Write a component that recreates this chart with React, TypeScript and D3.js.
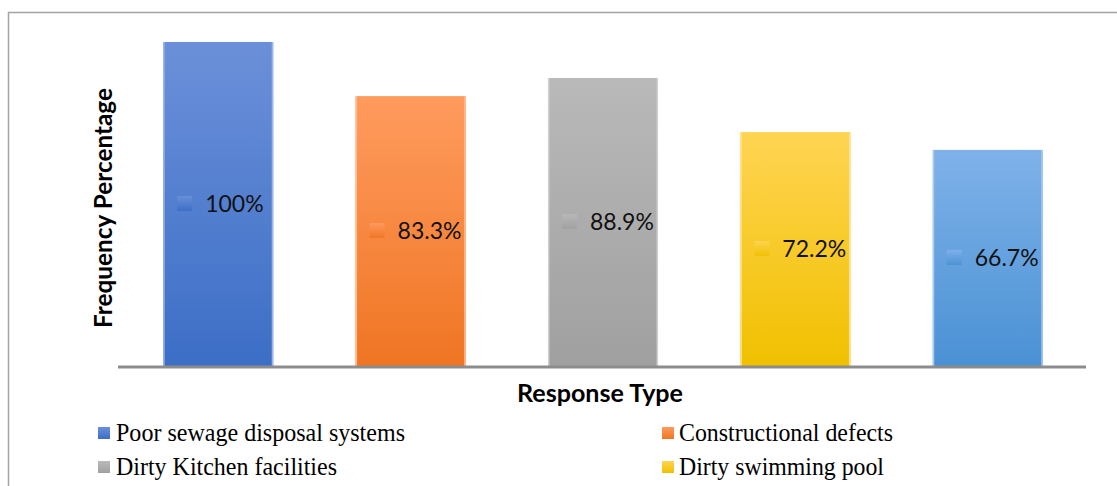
import React from "react";
import * as d3 from "d3";

const categories = [
  "Poor sewage disposal systems",
  "Constructional defects",
  "Dirty Kitchen facilities",
  "Dirty swimming pool",
  "Other",
];
const values = [100, 83.3, 88.9, 72.2, 66.7];
const valueLabels = ["100%", "83.3%", "88.9%", "72.2%", "66.7%"];
const topColors = ["#6b90d9", "#ff9b5e", "#b9b9b9", "#ffd452", "#7fb2e9"];
const bottomColors = ["#3c6ec6", "#ef7523", "#a0a0a0", "#f0c000", "#4a91d4"];
const edgeColors = ["#9fb6e6", "#ffb98c", "#cfcfcf", "#ffe089", "#a9cbf0"];
const legendItems = [0, 1, 2, 3];
const legendWidths = [289, 214, 221, 205];

const W = 1117;
const H = 486;

export default function App() {
  const x = d3
    .scaleBand<number>()
    .domain(d3.range(values.length))
    .range([122, 1084])
    .paddingInner(0.428)
    .paddingOuter(0.214);
  const y = d3.scaleLinear().domain([0, 100]).range([366, 42]);
  const bw = x.bandwidth();

  const legendPos = [
    { mx: 98, tx: 116, y: 441 },
    { mx: 662, tx: 679, y: 441 },
    { mx: 98, tx: 116, y: 475 },
    { mx: 662, tx: 679, y: 475 },
  ];

  return (
    <svg
      width={W}
      height={H}
      style={{ position: "absolute", left: 0, top: 0, display: "block", background: "#fff" }}
    >
      <defs>
        {values.map((_, i) => (
          <linearGradient key={i} id={`g${i}`} x1="0" y1="0" x2="0" y2="1">
            <stop offset="0%" stopColor={topColors[i]} />
            <stop offset="100%" stopColor={bottomColors[i]} />
          </linearGradient>
        ))}
      </defs>
      {/* frame */}
      <line x1={8} x2={W} y1={12.5} y2={12.5} stroke="#a3a3a3" strokeWidth={1.5} />
      <line x1={8.5} x2={8.5} y1={12} y2={H} stroke="#a3a3a3" strokeWidth={1.5} />

      {values.map((v, i) => {
        const bx = x(i)!;
        const by = y(v);
        const bh = y(0) - by;
        const cy = by + bh / 2;
        return (
          <g key={i}>
            <rect x={bx} y={by} width={bw} height={bh} fill={`url(#g${i})`} />
            <rect x={bx} y={by} width={1.5} height={bh} fill={edgeColors[i]} />
            <rect x={bx + bw - 1.5} y={by} width={1.5} height={bh} fill={edgeColors[i]} />
            <rect x={bx + 14} y={cy - 8} width={15} height={15} fill={`url(#g${i})`} opacity={0.9} />
            <text
              x={bx + 42}
              y={cy + 8}
              fontFamily="Lato, 'Open Sans', sans-serif"
              fontSize={23}
              fill="#111"
            >
              {valueLabels[i]}
            </text>
          </g>
        );
      })}

      {/* axis */}
      <line x1={118} x2={1086} y1={y(0) + 1} y2={y(0) + 1} stroke="#8c8c8c" strokeWidth={3} />

      {/* axis titles */}
      <text
        transform={`translate(112,208) rotate(-90)`}
        textAnchor="middle"
        fontFamily="Lato, 'Open Sans', sans-serif"
        fontWeight="bold"
        fontSize={24}
        textLength={240}
        lengthAdjust="spacingAndGlyphs"
        fill="#000"
      >
        Frequency Percentage
      </text>
      <text
        x={600}
        y={402}
        textAnchor="middle"
        fontFamily="Lato, 'Open Sans', sans-serif"
        fontWeight="bold"
        fontSize={24}
        textLength={166}
        lengthAdjust="spacingAndGlyphs"
        fill="#000"
      >
        Response Type
      </text>

      {/* legend */}
      {legendItems.map((i, k) => {
        const p = legendPos[k];
        return (
          <g key={i}>
            <rect x={p.mx} y={p.y - 14} width={12} height={12} fill={`url(#g${i})`} />
            <text
              x={p.tx}
              y={p.y}
              fontFamily="'Liberation Serif', 'Times New Roman', serif"
              fontSize={25}
              textLength={legendWidths[k]}
              lengthAdjust="spacingAndGlyphs"
              fill="#000"
            >
              {categories[i]}
            </text>
          </g>
        );
      })}
    </svg>
  );
}
